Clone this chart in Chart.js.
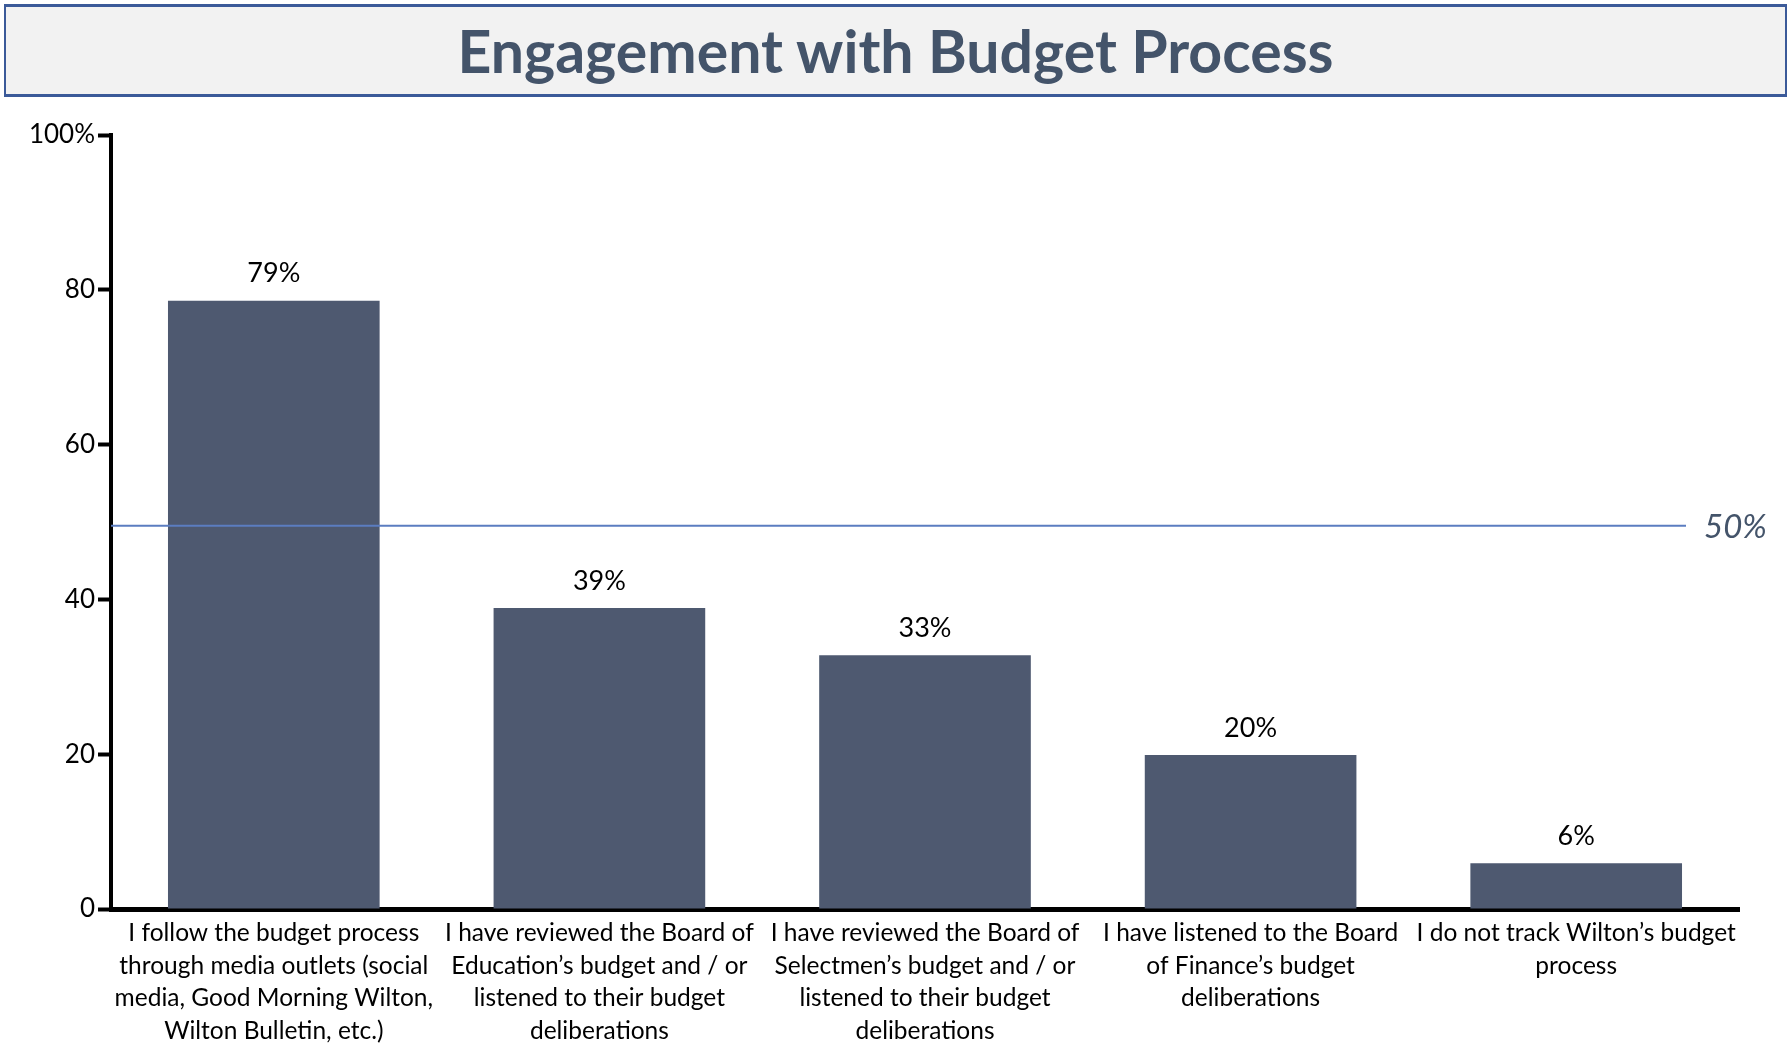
<!DOCTYPE html>
<html>
<head>
<meta charset="utf-8">
<script src="https://cdn.jsdelivr.net/npm/chart.js@4.4.1/dist/chart.umd.min.js"></script>
<style>
  html, body { margin: 0; padding: 0; background: #fff; }
  #wrap { position: relative; width: 1791px; height: 1045px; }
  #titleBox {
    position: absolute; left: 4px; top: 4px; width: 1779px; height: 87px;
    background: #f2f2f2; border: 2px solid #3b5a99; border-top-width: 3px; border-bottom-width: 3px;
    display: flex; align-items: center; justify-content: center;
    font-family: Lato, "Open Sans", sans-serif; font-weight: 700; font-size: 59px; color: #44546a;
  }
  canvas { position: absolute; left: 0; top: 0; }
</style>
</head>
<body>
<div id="wrap">
  <canvas id="myChart" width="1791" height="1045"></canvas>
  <div id="titleBox">Engagement with Budget Process</div>
</div>
<script>
"use strict";
const categorias = [
  ["I follow the budget process", "through media outlets (social", "media, Good Morning Wilton,", "Wilton Bulletin, etc.)"],
  ["I have reviewed the Board of", "Education\u2019s budget and / or", "listened to their budget", "deliberations"],
  ["I have reviewed the Board of", "Selectmen\u2019s budget and / or", "listened to their budget", "deliberations"],
  ["I have listened to the Board", "of Finance\u2019s budget", "deliberations"],
  ["I do not track Wilton\u2019s budget", "process"]
];
const porcentajes = [78.6, 38.9, 32.8, 19.9, 5.9];
const yTicks = [0, 20, 40, 60, 80, 100];
const referencia = 49.5;
const textoReferencia = "50%";

const fuente = "Lato, 'Open Sans', sans-serif";

// etiquetas encima de cada barra
const etiquetas = {
  id: "etiquetas",
  afterDatasetsDraw(chart) {
    const ctx = chart.ctx;
    const meta = chart.getDatasetMeta(0);
    ctx.save();
    ctx.font = "27px " + fuente;
    ctx.fillStyle = "#000";
    ctx.textAlign = "center";
    ctx.textBaseline = "middle";
    meta.data.forEach(function (bar, i) {
      ctx.fillText(Math.round(porcentajes[i]) + "%", bar.x, bar.y - 27);
    });
    ctx.restore();
  }
};

// linea del 50%
const lineaRef = {
  id: "lineaRef",
  afterDatasetsDraw(chart) {
    const ctx = chart.ctx;
    const y = chart.scales.y.getPixelForValue(referencia);
    const area = chart.chartArea;
    ctx.save();
    ctx.strokeStyle = "#5b7dc0";
    ctx.lineWidth = 2;
    ctx.beginPath();
    ctx.moveTo(area.left, y);
    ctx.lineTo(area.right - 53, y);
    ctx.stroke();
    ctx.font = "italic 33px " + fuente;
    ctx.fillStyle = "#44546a";
    ctx.textAlign = "left";
    ctx.textBaseline = "middle";
    ctx.fillText(textoReferencia, area.right - 35, y + 1);
    ctx.restore();
  }
};

let data = {
  labels: categorias,
  datasets: [
    {
      label: "Engagement",
      backgroundColor: "#4e5970",
      borderWidth: 0,
      data: porcentajes,
      barPercentage: 0.65,
      categoryPercentage: 1
    }
  ]
};

const config = {
  type: "bar",
  data: data,
  options: {
    responsive: false,
    animation: false,
    layout: { padding: { left: 0, right: 52, top: 135, bottom: 0 } },
    plugins: {
      legend: { display: false },
      tooltip: { enabled: false },
      title: { display: false }
    },
    scales: {
      x: {
        grid: { display: false, drawTicks: false },
        border: { display: true, color: "#000", width: 5 },
        ticks: {
          color: "#000",
          font: { family: fuente, size: 24.5, lineHeight: 1.33 },
          maxRotation: 0,
          autoSkip: false,
          padding: 8
        },
        afterFit(scale) { scale.height = 136; }
      },
      y: {
        min: 0,
        max: 100,
        afterBuildTicks(scale) { scale.ticks = yTicks.map(v => ({ value: v })); },
        grid: { drawOnChartArea: false, drawTicks: true, tickLength: 13, tickWidth: 4, tickColor: "#000" },
        border: { display: true, color: "#000", width: 4 },
        ticks: {
          color: "#000",
          font: { family: fuente, size: 26 },
          padding: 3,
          callback: v => (v === 100 ? "100%" : v)
        },
        afterFit(scale) { scale.width = 111; }
      }
    }
  },
  plugins: [etiquetas, lineaRef]
};

let myChart = new Chart(document.getElementById("myChart"), config);
</script>
</body>
</html>
